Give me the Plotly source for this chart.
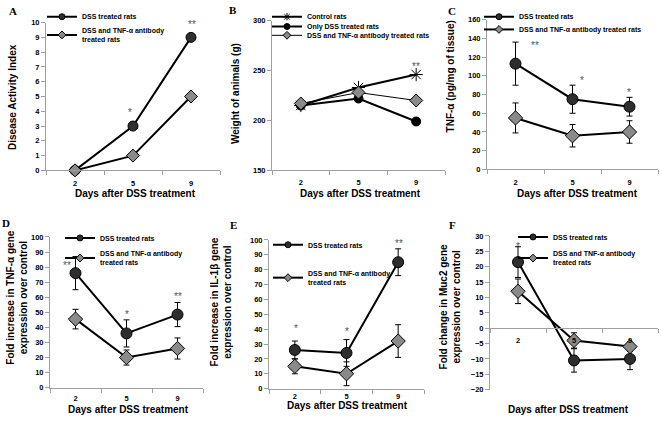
import plotly.graph_objects as go

W, H = 662, 424

# shared categories (days after DSS treatment)
days = ['2', '5', '9']
pos = [0, 1, 2]

# A - disease activity index
dai_dss = [0, 3, 9]
dai_anti = [0, 1, 5]
dai_stars = ['', '*', '**']

# B - body weight (g)
wt_control = [215, 233, 246]
wt_dss = [215, 222, 199]
wt_anti = [217, 228, 220]
wt_stars = ['', '', '**']

# C - TNF-alpha protein (pg/mg of tissue)
tnf_dss = [113, 75, 67]
tnf_dss_err = [23, 15, 10]
tnf_anti = [55, 36, 40]
tnf_anti_err = [16, 12, 12]
tnf_stars = ['**', '*', '*']

# D - TNF-alpha gene expression (fold)
tnfg_dss = [76, 36, 48.5]
tnfg_dss_err = [11, 9, 8]
tnfg_anti = [45.5, 20, 26]
tnfg_anti_err = [6.5, 5, 7]
tnfg_stars = ['**', '*', '**']

# E - IL-1beta gene expression (fold)
il1_dss = [26, 24, 85]
il1_dss_err = [6, 9, 9]
il1_anti = [15, 10, 32]
il1_anti_err = [5, 8, 11]
il1_stars = ['*', '*', '**']

# F - Muc2 gene expression (fold change)
muc2_dss = [21.5, -10.5, -10]
muc2_dss_err = [5, 3.8, 3.5]
muc2_anti = [12, -4, -6]
muc2_anti_err = [4, 2.5, 1.5]
muc2_stars = ['*', '', '']

DSS_NAME = 'DSS treated rats'
ANTI_NAME = 'DSS and TNF-α antibody<br>treated rats'
ANTI_NAME_1L = 'DSS and TNF-α antibody treated rats'

DARK = '#2e2e2e'
GRAY = '#8a8a8a'
AXIS = '#a0a0a0'
STAR = '#555555'
FONT = 'Arial, Liberation Sans, sans-serif'
TICKFONT = dict(family=FONT, size=7.5, color='black', weight='bold')
LEGFONT = dict(family=FONT, size=7, color='black', weight='bold')


def px_x(p):
    return p / W


def px_y(p):
    return 1 - p / H


def sfx(n):
    return '' if n == 1 else str(n)


def set_axes(fig, n, left, right, top, bottom, yrange, dtick, label_gap=6, zero_axis=False):
    s = sfx(n)
    ydom = [px_y(bottom), px_y(top)]
    xax = dict(domain=[px_x(left), px_x(right)], anchor='y' + s, range=[-0.5, 2.5],
               tickmode='array', tickvals=pos, ticktext=days,
               ticks='outside' if label_gap else '', ticklen=max(label_gap, 1),
               tickcolor='rgba(0,0,0,0)',
               showline=True, linecolor=AXIS, linewidth=1,
               showgrid=False, zeroline=False, tickfont=TICKFONT,
               minor=dict(tickmode='linear', tick0=-0.5, dtick=1,
                          ticks='outside', ticklen=4, tickwidth=1, tickcolor=AXIS, showgrid=False))
    if zero_axis:
        frac = (0 - yrange[0]) / (yrange[1] - yrange[0])
        xax.update(anchor='free', position=ydom[0] + frac * (ydom[1] - ydom[0]))
    fig.layout['xaxis' + s] = xax
    fig.layout['yaxis' + s] = dict(domain=ydom, anchor='x' + s, range=yrange, dtick=dtick,
                                   ticks='outside', ticklen=4, tickcolor=AXIS,
                                   showline=True, linecolor=AXIS, linewidth=1,
                                   showgrid=False, zeroline=False, tickfont=TICKFONT)


legend_count = [0]


def add_line(fig, n, y, err, name, symbol, fill, size, leg_xy, width=2):
    s = sfx(n)
    fig.add_trace(go.Scatter(
        x=pos, y=y, name=name, mode='lines+markers', xaxis='x' + s, yaxis='y' + s,
        line=dict(color='black', width=width),
        marker=dict(symbol=symbol, size=size, color=fill, line=dict(color='black', width=1)),
        error_y=dict(type='data', array=err, visible=err is not None,
                     color='black', thickness=1, width=3),
        showlegend=False, cliponaxis=False))
    # one small legend per entry, so each can sit where the original put it
    legend_count[0] += 1
    key = 'legend' + sfx(legend_count[0])
    fig.layout[key] = dict(x=px_x(leg_xy[0] - 37), y=px_y(leg_xy[1]), xanchor='left',
                           yanchor='middle', bgcolor='rgba(0,0,0,0)', itemwidth=30,
                           font=LEGFONT, itemclick=False, itemdoubleclick=False)
    fig.add_trace(go.Scatter(
        x=[None], y=[None], name=name, mode='lines+markers', xaxis='x' + s, yaxis='y' + s,
        line=dict(color='black', width=width),
        marker=dict(symbol=symbol, size=6, color=fill, line=dict(color='black', width=1)),
        legend=key))


def add_stars(fig, n, y, stars, shifts):
    s = sfx(n)
    for i, (lab, (dx, dy)) in enumerate(zip(stars, shifts)):
        if lab:
            fig.add_annotation(x=pos[i], y=y[i], xref='x' + s, yref='y' + s, text=lab,
                               showarrow=False, xshift=dx, yshift=dy,
                               font=dict(family=FONT, size=10, color=STAR))


def add_text(fig, x, y, text, size=10, angle=0, family=FONT, weight='bold'):
    fig.add_annotation(x=px_x(x), y=px_y(y), xref='paper', yref='paper', text=text,
                       showarrow=False, textangle=angle, xanchor='center', yanchor='middle',
                       font=dict(family=family, size=size, color='black', weight=weight))


fig = go.Figure()

# axes (pixel boxes of each plot area)
set_axes(fig, 1, 46, 220, 19, 170, [0, 10], 1, label_gap=6)
set_axes(fig, 2, 272, 445, 17, 170, [150, 300], 50, label_gap=5)
set_axes(fig, 3, 487, 658, 16, 169, [0, 160], 20, label_gap=6)
set_axes(fig, 4, 50, 203, 238, 392, [0, 100], 10, label_gap=3)
set_axes(fig, 5, 269, 424, 241, 393, [0, 100], 10, label_gap=0)
set_axes(fig, 6, 490, 658, 237, 394, [-20, 30], 5, label_gap=5, zero_axis=True)

# A
add_line(fig, 1, dai_dss, None, DSS_NAME, 'circle', DARK, 10, (79, 13))
add_line(fig, 1, dai_anti, None, ANTI_NAME, 'diamond', GRAY, 10, (79, 32))
add_stars(fig, 1, dai_dss, dai_stars, [(0, 0), (-3, 14), (1, 13)])

# B
add_line(fig, 2, wt_control, None, 'Control rats', 'asterisk-open', 'black', 11, (304, 13))
add_line(fig, 2, wt_dss, None, 'Only DSS treated rats', 'circle', 'black', 9, (304, 23))
add_line(fig, 2, wt_anti, None, ANTI_NAME_1L, 'diamond', GRAY, 10, (304, 32), width=1)
add_stars(fig, 2, wt_control, wt_stars, [(0, 0), (0, 0), (0, 8)])

# C
add_line(fig, 3, tnf_dss, tnf_dss_err, DSS_NAME, 'circle', DARK, 11, (516, 13))
add_line(fig, 3, tnf_anti, tnf_anti_err, ANTI_NAME_1L, 'diamond', GRAY, 11, (516, 26))
add_stars(fig, 3, tnf_dss, tnf_stars, [(19, 18), (9, 19), (-1, 14)])

# D
add_line(fig, 4, tnfg_dss, tnfg_dss_err, DSS_NAME, 'circle', DARK, 11, (97, 239))
add_line(fig, 4, tnfg_anti, tnfg_anti_err, ANTI_NAME, 'diamond', GRAY, 11, (97, 260))
add_stars(fig, 4, tnfg_dss, tnfg_stars, [(-9, 8), (0, 19), (0, 18)])

# E
add_line(fig, 5, il1_dss, il1_dss_err, DSS_NAME, 'circle', DARK, 11, (305, 246))
add_line(fig, 5, il1_anti, il1_anti_err, ANTI_NAME, 'diamond', GRAY, 11, (305, 280))
add_stars(fig, 5, il1_dss, il1_stars, [(1, 21), (0, 21), (1, 19)])

# F
add_line(fig, 6, muc2_dss, muc2_dss_err, DSS_NAME, 'circle', DARK, 11, (550, 238))
add_line(fig, 6, muc2_anti, muc2_anti_err, ANTI_NAME, 'diamond', GRAY, 11, (550, 260))
add_stars(fig, 6, muc2_dss, muc2_stars, [(0, 16), (0, 0), (0, 0)])

# panel letters
for lab, lx, ly in [('A', 13, 7), ('B', 233, 6), ('C', 452, 7),
                    ('D', 6, 224), ('E', 233, 226), ('F', 452, 226)]:
    add_text(fig, lx, ly, lab, size=11, family='Liberation Serif, Times New Roman, serif')

# x titles
for lx, ly in [(135, 194), (360, 194), (577, 194), (128, 414), (348, 410), (568, 414)]:
    add_text(fig, lx, ly, 'Days after DSS treatment')

# y titles
add_text(fig, 13, 95, 'Disease Activity Index', angle=-90)
add_text(fig, 235, 92, 'Weight of animals (g)', angle=-90)
add_text(fig, 450, 74, 'TNF-α (pg/mg of tissue)', angle=-90)
add_text(fig, 17, 300, 'Fold increase in TNF-α gene<br>expression over control', angle=-90)
add_text(fig, 221, 305, 'Fold increase in IL-1β gene<br>expression over control', angle=-90)
add_text(fig, 450, 310, 'Fold change in Muc2 gene<br>expression over control', angle=-90)

fig.update_layout(width=W, height=H, margin=dict(l=0, r=0, t=0, b=0),
                  paper_bgcolor='white', plot_bgcolor='white', showlegend=True)

fig.write_html("out.html", config={'displayModeBar': False},
               post_script="document.body.style.margin = '0px';")
